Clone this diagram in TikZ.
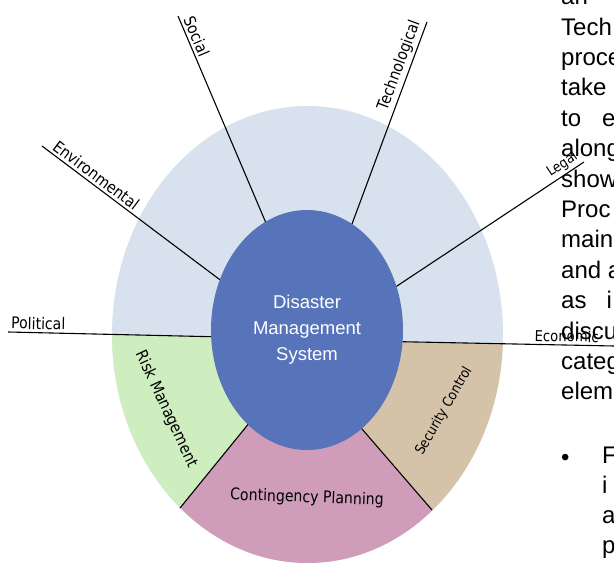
\documentclass[tikz,border=0pt]{standalone}
\usepackage{fontspec}
\setmainfont{DejaVu Sans}[FakeStretch=0.88]
\newfontfamily\arialfont{Liberation Sans}
\usetikzlibrary{shapes.geometric}
\definecolor{ringblue}{HTML}{D7E2EE}
\definecolor{hubblue}{HTML}{5773BA}
\definecolor{riskgreen}{HTML}{CFEEBF}
\definecolor{planpink}{HTML}{CF9CBA}
\definecolor{sectan}{HTML}{D5C3A9}

\begin{document}
\begin{tikzpicture}[x=1pt,y=-1pt,
  spoke/.style={line width=1.1pt},
  factor/.style={font=\fontsize{16}{19}\selectfont,inner sep=2.5pt},
  sector/.style={font=\fontsize{16}{19}\selectfont,inner sep=0pt},
  doctext/.style={font=\arialfont\fontsize{24}{29}\selectfont,inner sep=0pt,anchor=base west}]
\useasboundingbox (0,0) rectangle (614,565);
\clip (0,0) rectangle (614,565);
\begin{scope}
\clip (307.5,334.5) ellipse [x radius=195.5pt,y radius=228.5pt];
\fill[ringblue] (0,0) rectangle (614,565);
\fill[riskgreen] (0,332) -- (212,337) -- (248,425) -- (113,589) -- (0,589) -- cycle;
\fill[planpink] (248,425) -- (113,589) -- (502,589) -- (361,429) -- cycle;
\fill[sectan] (361,429) -- (502,589) -- (614,589) -- (614,346) -- (402,342) -- cycle;
\end{scope}
\node[ellipse,fill=hubblue,minimum width=192pt,minimum height=240pt,inner sep=0pt,outer sep=0pt,
  text=white,align=center,font=\arialfont\fontsize{18.5}{26}\selectfont] (dms) at (307,330)
  {Disaster\\Management\\System};

\coordinate (polend) at (8,332);
\coordinate (envend) at (42,146);
\coordinate (socend) at (178,16);
\coordinate (techend) at (427,22);
\coordinate (legalend) at (584,162);
\coordinate (ecoend) at (614,346);
\coordinate (riskend) at (180,508);
\coordinate (secend) at (432,510);
\draw[spoke] (dms.184) -- (polend) node[factor,pos=1,sloped,anchor=south west] (pol) {Political};
\draw[spoke] (dms.150) -- (envend) node[factor,pos=0.97,sloped,anchor=south west] (env) {Environmental};
\draw[spoke] (dms.111) -- (socend) node[factor,pos=0.99,sloped,anchor=south west] (soc) {Social};
\draw[spoke] (dms.67) -- (techend) node[factor,pos=1,sloped,anchor=south east] (tech) {Technological};
\draw[spoke] (dms.26) -- (legalend) node[factor,pos=1,sloped,anchor=south east,font=\fontsize{14}{16}\selectfont] (legal) {Legal};
\draw[spoke] (dms.353) -- (ecoend) node[factor,pos=0.61,sloped,anchor=south west,font=\fontsize{15}{17}\selectfont] (eco) {Economic};
\draw[spoke] (dms.238) -- (riskend);
\draw[spoke] (dms.299) -- (secend);

\node[sector,rotate=-65] (risk) at (166,409) {Risk Management};
\node[sector,rotate=-2] (plan) at (307,498) {Contingency Planning};
\node[sector,rotate=60,font=\fontsize{14}{17}\selectfont] (sec) at (444,411) {Security Control};

\foreach \txt [count=\k from 0] in {an,Tech,proce,take,{to\hspace{21pt}e},along,show,Proc,main,and a,{as\hspace{20pt}i},discu,categ,elem}
  \node[doctext] (doc\k) at (561,{4.6+30.4*\k}) {\txt};
\node[doctext] (bullet) at (561,465) {\textbullet};
\foreach \txt [count=\k from 0] in {F,i,a,p}
  \node[doctext] (item\k) at (602,{463+30*\k}) {\txt};
\end{tikzpicture}
\end{document}
